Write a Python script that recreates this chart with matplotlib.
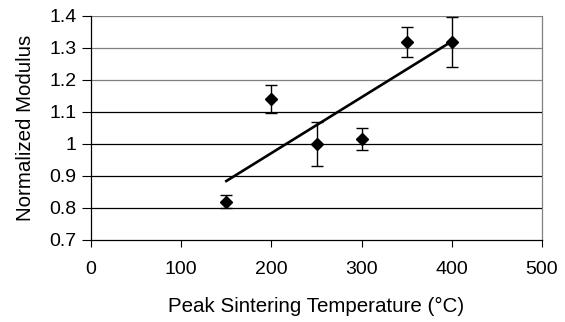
import matplotlib.pyplot as plt
import numpy as np

plt.rcParams['font.family'] = ['Liberation Sans', 'DejaVu Sans']

# data
temps = [150, 200, 250, 300, 350, 400]
modulus = [0.82, 1.14, 1.00, 1.015, 1.32, 1.32]
err = [0.02, 0.043, 0.07, 0.035, 0.047, 0.078]
xticks = [0, 100, 200, 300, 400, 500]
yticks = [0.7, 0.8, 0.9, 1.0, 1.1, 1.2, 1.3, 1.4]
ytick_labels = ['0.7', '0.8', '0.9', '1', '1.1', '1.2', '1.3', '1.4']

fig = plt.figure(figsize=(5.65, 3.22), dpi=100)
ax = fig.add_axes([91 / 565, 1 - 240 / 322, 451 / 565, 224 / 322])

# gridlines (upper ones render lighter in the original)
for y in yticks[1:]:
    col = '#808080' if y > 1.15 else 'black'
    ax.axhline(y, color=col, linewidth=0.9, zorder=1)

# linear trendline
k, b = np.polyfit(temps, modulus, 1)
xt = np.array([temps[0], temps[-1]])
ax.plot(xt, k * xt + b, color='black', linewidth=1.9, zorder=3)

ax.errorbar(temps, modulus, yerr=err, fmt='D', color='black', markersize=6,
            ecolor='black', elinewidth=1.0, capsize=4.3, capthick=1.0, zorder=4)

ax.set_xlim(0, 500)
ax.set_ylim(0.7, 1.4)
ax.set_xticks(xticks)
ax.set_yticks(yticks)
ax.set_yticklabels(ytick_labels)
ax.tick_params(axis='both', direction='out', width=0.8, labelsize=14,
               colors='black')
ax.tick_params(axis='y', length=6.5, pad=4)
ax.tick_params(axis='x', length=5, pad=10)

ax.spines['top'].set_visible(False)
ax.spines['right'].set_color('#808080')
ax.spines['left'].set_color('black')
ax.spines['bottom'].set_color('black')
for s in ax.spines.values():
    s.set_linewidth(0.9)

ax.set_xlabel('Peak Sintering Temperature (°C)', fontsize=14.8, labelpad=14)
ax.set_ylabel('Normalized Modulus', fontsize=14.8, labelpad=10)

fig.savefig('out.png', dpi=100)
